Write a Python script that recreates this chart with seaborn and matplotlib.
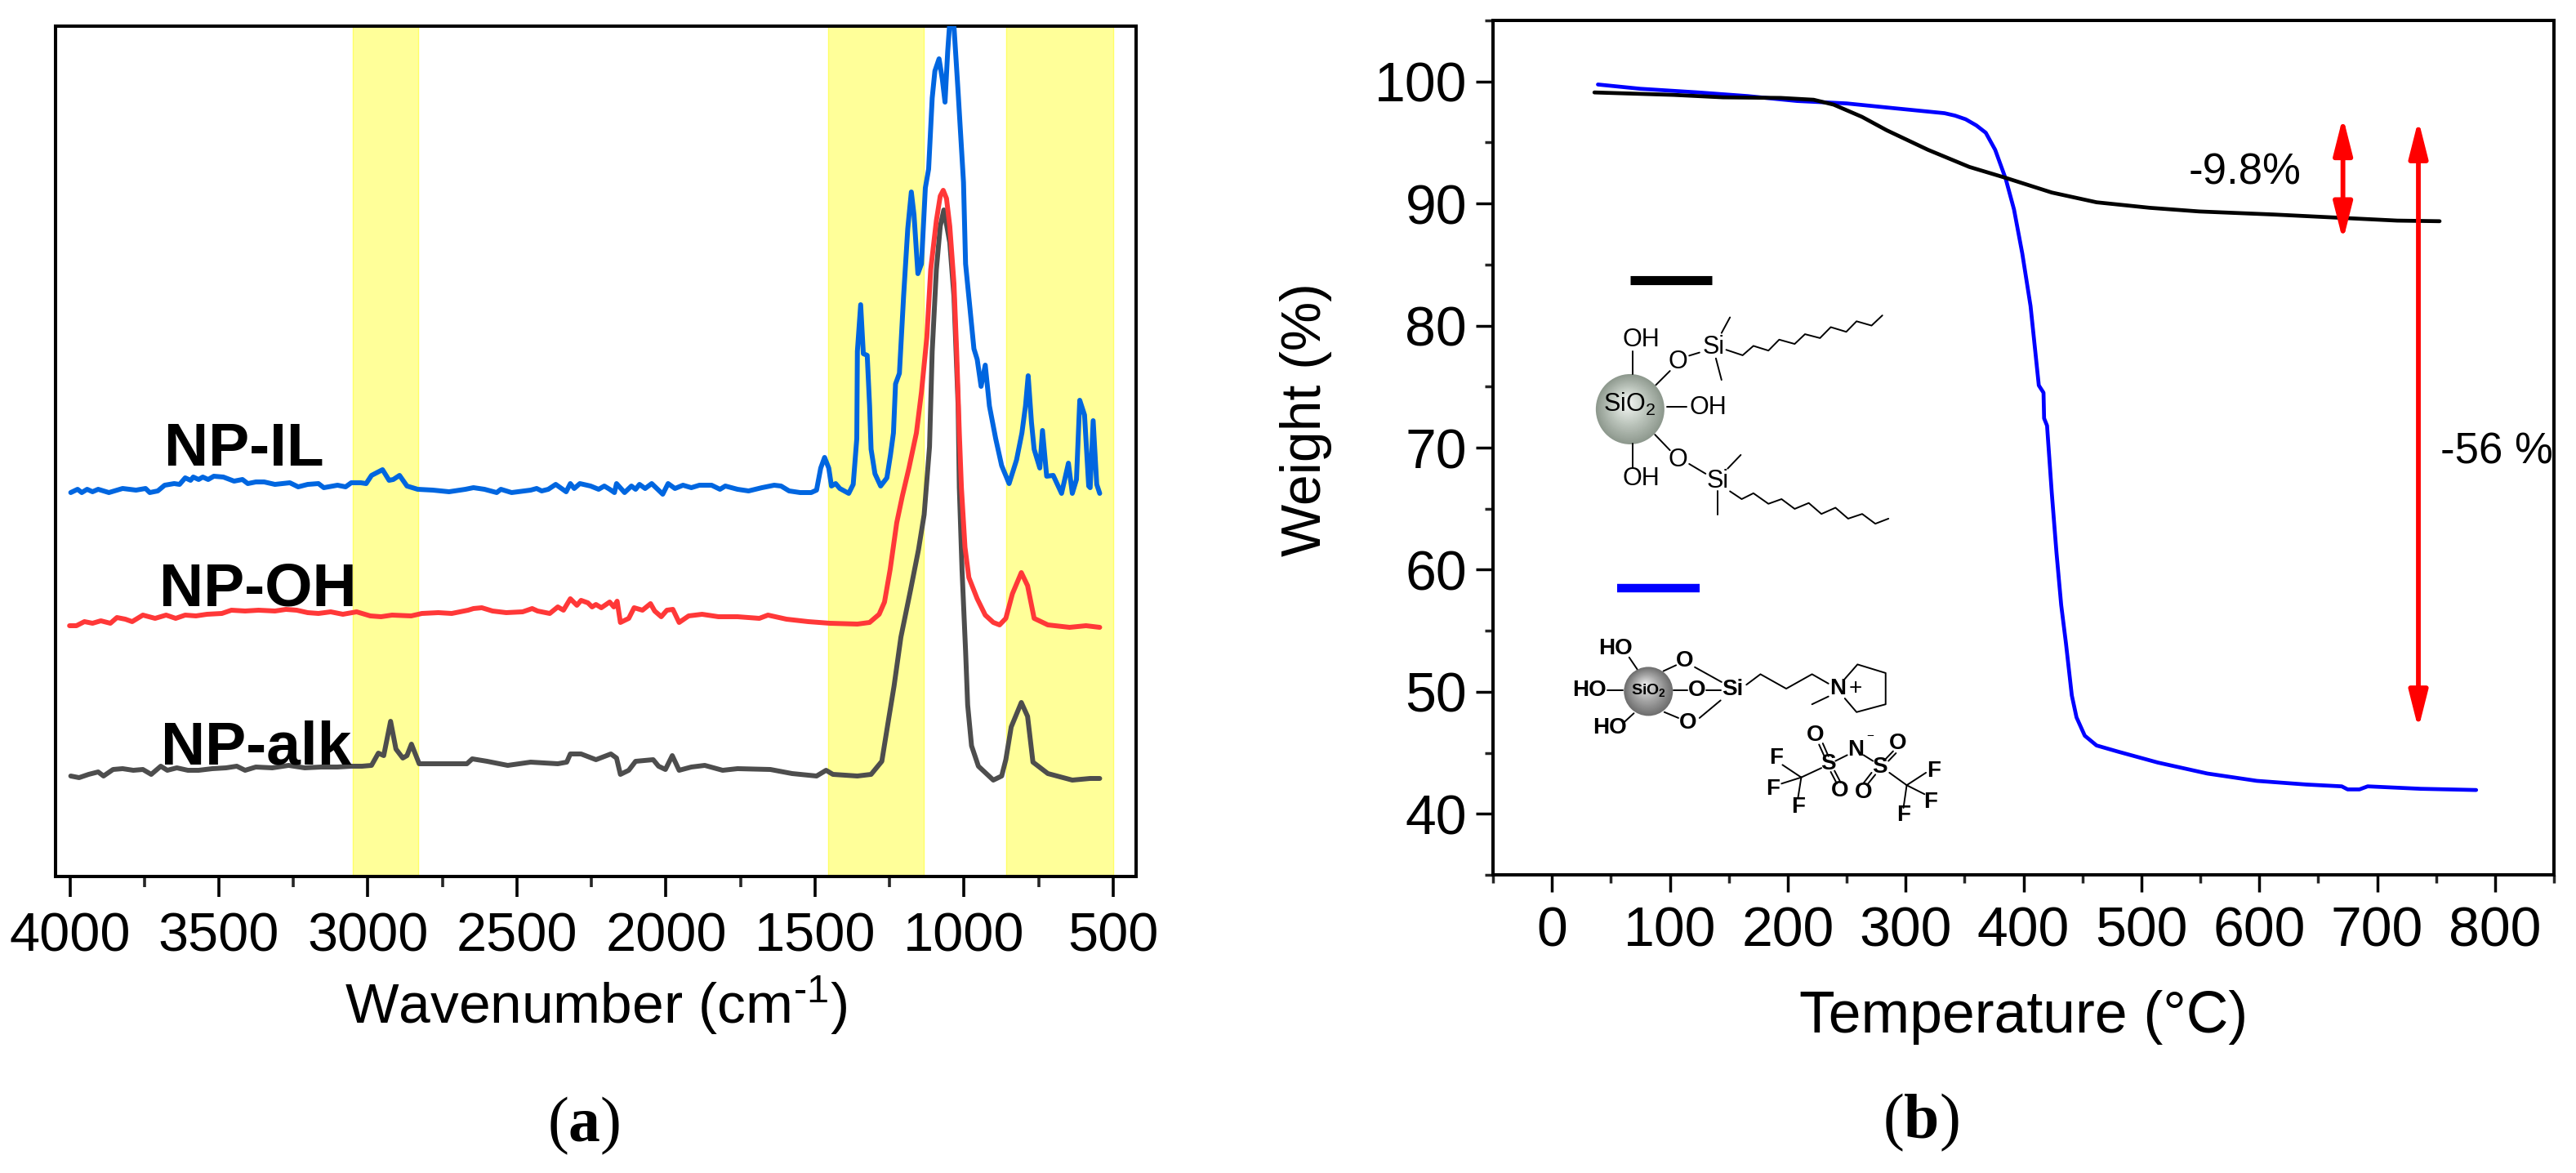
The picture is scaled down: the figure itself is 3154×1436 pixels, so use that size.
import matplotlib
matplotlib.use("Agg")
import matplotlib.pyplot as plt
from matplotlib.patches import Ellipse
from matplotlib.ticker import MultipleLocator
import seaborn as sns

# FTIR spectra, wavenumber (cm-1) and offset intensity (a.u.)
ir_wn_oh = [4001, 3978, 3951, 3924, 3896, 3864, 3842, 3814, 3791, 3755, 3714, 3677, 3645, 3613, 3577, 3540, 3490, 3458,
            3412, 3367, 3312, 3275, 3239, 3202, 3166, 3125, 3084, 3038, 2992, 2956, 2919, 2855, 2819, 2764, 2719, 2664,
            2646, 2618, 2582, 2536, 2481, 2449, 2431, 2390, 2363, 2344, 2321, 2299, 2285, 2262, 2248, 2235, 2217, 2189,
            2175, 2164, 2153, 2125, 2107, 2079, 2052, 2038, 2016, 1997, 1977, 1956, 1924, 1879, 1824, 1760, 1687, 1658,
            1596, 1523, 1450, 1358, 1317, 1285, 1267, 1248, 1226, 1207, 1185, 1160, 1143, 1125, 1112, 1093, 1080, 1070,
            1059, 1048, 1034, 1025, 1016, 1009, 997, 984, 956, 929, 902, 881, 860, 838, 808, 787, 765, 719, 646, 591, 545]
ir_int_oh = [307, 307, 312, 310, 313, 310, 317, 315, 312, 320, 316, 320, 316, 320, 319, 321, 322, 326,
             325, 326, 325, 327, 326, 323, 322, 324, 321, 324, 319, 318, 320, 319, 322, 323, 322, 326,
             328, 329, 325, 323, 324, 328, 325, 322, 330, 326, 340, 332, 338, 335, 330, 333, 329, 336,
             330, 337, 311, 316, 329, 326, 334, 325, 318, 326, 327, 311, 319, 321, 318, 318, 316, 320,
             315, 312, 310, 309, 311, 321, 336, 376, 433, 466, 500, 543, 593, 660, 743, 803, 833, 840,
             830, 796, 726, 643, 543, 476, 403, 366, 340, 320, 311, 308, 316, 346, 372, 356, 316, 308, 305, 307, 305]

ir_wn_alk = [3997, 3969, 3937, 3905, 3887, 3855, 3823, 3787, 3755, 3727, 3695, 3673, 3641, 3604, 3568, 3522, 3476, 3440,
             3412, 3376, 3321, 3266, 3212, 3157, 3102, 3056, 3020, 2988, 2965, 2947, 2924, 2906, 2883, 2869, 2854, 2828,
             2737, 2668, 2650, 2600, 2531, 2454, 2363, 2333, 2321, 2285, 2235, 2185, 2166, 2153, 2125, 2102, 2043, 2025,
             2002, 1979, 1956, 1915, 1870, 1810, 1760, 1650, 1577, 1495, 1463, 1440, 1358, 1312, 1276, 1253, 1235, 1212,
             1180, 1153, 1134, 1116, 1107, 1093, 1080, 1068, 1048, 1034, 1020, 1016, 1007, 995, 988, 975, 952, 902, 874,
             860, 842, 808, 787, 769, 719, 637, 577, 545]
ir_int_alk = [123, 121, 125, 128, 123, 131, 132, 130, 131, 125, 135, 130, 133, 130, 130, 132, 133, 135,
              130, 134, 133, 136, 133, 134, 134, 135, 135, 136, 151, 148, 190, 156, 145, 148, 162, 138,
              138, 138, 144, 141, 136, 140, 138, 140, 150, 150, 143, 150, 145, 125, 130, 141, 143, 135,
              131, 148, 130, 134, 136, 130, 132, 131, 126, 123, 130, 125, 123, 125, 141, 193, 233, 293,
              350, 400, 443, 526, 643, 743, 796, 816, 776, 710, 576, 476, 376, 276, 210, 160, 135, 118, 123,
              143, 183, 213, 196, 140, 126, 118, 120, 120]

ir_wn_il = [3997, 3974, 3960, 3942, 3924, 3905, 3869, 3823, 3778, 3746, 3732, 3705, 3682, 3650, 3632, 3613, 3595, 3586,
            3568, 3554, 3536, 3517, 3485, 3449, 3421, 3403, 3376, 3348, 3312, 3262, 3234, 3202, 3166, 3148, 3102, 3075,
            3056, 3024, 3006, 2988, 2951, 2929, 2915, 2894, 2869, 2833, 2782, 2728, 2673, 2646, 2609, 2568, 2554, 2518,
            2454, 2434, 2417, 2395, 2370, 2335, 2321, 2308, 2289, 2253, 2226, 2207, 2189, 2173, 2166, 2139, 2116, 2102,
            2089, 2070, 2048, 2011, 1993, 1970, 1943, 1915, 1888, 1847, 1819, 1801, 1760, 1723, 1678, 1637, 1614, 1587,
            1550, 1513, 1495, 1481, 1468, 1454, 1445, 1431, 1417, 1387, 1372, 1360, 1358, 1347, 1338, 1325, 1317, 1312,
            1299, 1280, 1259, 1247, 1237, 1230, 1217, 1203, 1189, 1177, 1168, 1155, 1143, 1130, 1119, 1107, 1098, 1084,
            1073, 1064, 1055, 1049, 1034, 1020, 1002, 995, 975, 967, 956, 943, 929, 915, 894, 874, 849, 824, 806, 794,
            785, 774, 765, 746, 737, 723, 701, 673, 650, 637, 623, 612, 596, 582, 577, 567, 555, 545]
ir_int_il = [470, 474, 470, 474, 471, 474, 470, 475, 473, 475, 470, 472, 479, 481, 480, 488, 485, 489,
             486, 489, 486, 490, 489, 484, 486, 481, 483, 483, 480, 482, 477, 480, 481, 476, 479, 477,
             482, 482, 481, 491, 498, 485, 486, 491, 478, 474, 473, 471, 474, 476, 474, 470, 474, 470,
             473, 475, 472, 474, 480, 471, 481, 475, 481, 478, 474, 478, 474, 470, 481, 470, 478, 474,
             480, 475, 481, 468, 481, 475, 479, 476, 479, 479, 474, 478, 474, 472, 476, 479, 478, 472,
             470, 470, 473, 500, 513, 500, 478, 481, 475, 469, 480, 536, 643, 700, 640, 638, 576, 523,
             493, 478, 488, 516, 543, 603, 616, 710, 793, 838, 810, 738, 750, 843, 866, 953, 986, 1001,
             976, 948, 1010, 1041, 1041, 960, 850, 750, 676, 646, 633, 600, 626, 576, 536, 503, 481, 510, 543, 576,
             613, 556, 523, 500, 546, 490, 491, 469, 506, 469, 486, 583, 565, 478, 476, 558, 480, 469]

ir_series = [("NP-IL", ir_wn_il, ir_int_il, "#0066E0", 201, 570),
             ("NP-OH", ir_wn_oh, ir_int_oh, "#FF3838", 195, 742),
             ("NP-alk", ir_wn_alk, ir_int_alk, "#4D4D4D", 197, 936)]
ir_bands = [(3051, 2832), (1456, 1135), (860, 500)]
ir_ticks = [4000, 3500, 3000, 2500, 2000, 1500, 1000, 500]

# TGA curves, temperature (C) and weight (%)
tga_t_alk = [36, 103, 145, 194, 222, 239, 263, 284, 319, 354, 385, 424, 462, 507, 549, 612, 675, 717, 753]
tga_w_alk = [99.1, 98.9, 98.7, 98.65, 98.5, 98.1, 97.1, 96, 94.4, 93, 92.1, 90.9, 90.1, 89.65, 89.35, 89.1, 88.8, 88.6, 88.55]
tga_t_il = [39, 75, 124, 166, 208, 250, 291, 333, 342, 351, 360, 368, 376, 385, 392, 399, 406, 410, 413, 417, 417.5, 420,
            424, 428, 432, 436, 441, 445, 452, 462, 480, 514, 556, 598, 640, 670, 675, 685, 692, 737, 784]
tga_w_il = [99.75, 99.4, 99.1, 98.8, 98.4, 98.2, 97.8, 97.4, 97.2, 96.9, 96.4, 95.8, 94.4, 92, 89.5, 85.9, 81.6, 77.9, 75.1, 74.5, 72.4, 71.8,
            66.3, 61.4, 57.1, 54, 49.7, 47.9, 46.4, 45.6, 45.1, 44.2, 43.3, 42.7, 42.4, 42.25, 42, 42, 42.25, 42.05, 41.95]
tga_t_ticks = [0, 100, 200, 300, 400, 500, 600, 700, 800]
tga_w_ticks = [40, 50, 60, 70, 80, 90, 100]
loss_arrows = [(671, 97.1, 86.96), (735, 96.85, 46.96)]

sns.set_theme(style="ticks")
plt.rcParams["font.family"] = ["Liberation Sans", "DejaVu Sans"]
plt.rcParams["mathtext.fontset"] = "custom"
plt.rcParams["mathtext.rm"] = "Liberation Sans"
plt.rcParams["mathtext.bf"] = "Liberation Serif:bold"
plt.rcParams["mathtext.default"] = "regular"

W, H = 3154, 1436
fig = plt.figure(figsize=(W / 100, H / 100), dpi=100, facecolor="white")


def box(x0, y0, x1, y1):
    return [x0 / W, 1 - y1 / H, (x1 - x0) / W, (y1 - y0) / H]


def style_axes(ax):
    for s in ax.spines.values():
        s.set_linewidth(2.9)
        s.set_color("black")
        s.set_visible(True)


# panel a
ax1 = fig.add_axes(box(68, 32, 1391, 1073))
for lo, hi in ir_bands:
    ax1.axvspan(lo, hi, facecolor="#FFFF99", edgecolor="#FFFF66", lw=1, zorder=0)
for name, wn, val, col, _, _ in ir_series[::-1]:
    sns.lineplot(x=wn, y=val, color=col, linewidth=4.3, estimator=None, sort=False, ax=ax1, zorder=3)
ax1.set_xlim(4048, 423)
ax1.set_ylim(0, 1041)
ax1.set_yticks([])
ax1.set_xticks(ir_ticks)
ax1.set_xticklabels([str(t) for t in ir_ticks])
ax1.xaxis.set_minor_locator(MultipleLocator(250))
ax1.tick_params(axis="x", which="major", length=18, width=2.6, labelsize=48, pad=13, colors="black")
ax1.tick_params(axis="x", which="minor", length=9, width=2.6)
ax1.set_xlabel("Wavenumber (cm$^{\u20101}$)", fontsize=50, color="black")
ax1.xaxis.set_label_coords(0.5, -0.115)
style_axes(ax1)

# panel b
ax2 = fig.add_axes(box(1828, 25, 3127, 1071))
sns.lineplot(x=tga_t_il, y=tga_w_il, color="#0000FF", linewidth=3.4, estimator=None, sort=False, ax=ax2)
sns.lineplot(x=tga_t_alk, y=tga_w_alk, color="black", linewidth=3.4, estimator=None, sort=False, ax=ax2)
for t, top, bottom in loss_arrows:
    ax2.annotate("", xy=(t, top), xytext=(t, bottom),
                 arrowprops=dict(arrowstyle="<|-|>,head_length=1.9,head_width=0.48", mutation_scale=14.5,
                                 color="#FF0000", lw=4.2, shrinkA=0, shrinkB=0), zorder=5)
ax2.set_xlim(-50, 850)
ax2.set_ylim(35, 105)
ax2.set_xticks(tga_t_ticks)
ax2.set_yticks(tga_w_ticks)
ax2.xaxis.set_minor_locator(MultipleLocator(50))
ax2.yaxis.set_minor_locator(MultipleLocator(5))
ax2.tick_params(axis="both", which="major", length=15, width=2.5, labelsize=49, colors="black")
ax2.tick_params(axis="x", which="major", pad=12)
ax2.tick_params(axis="y", which="major", pad=8)
ax2.tick_params(axis="both", which="minor", length=7.5, width=2.5)
ax2.set_xlabel("Temperature (°C)", fontsize=51.5, color="black")
ax2.set_ylabel("Weight (%)", fontsize=49, color="black")
ax2.xaxis.set_label_coords(0.5, -0.135)
ax2.yaxis.set_label_coords(-0.152, 0.533)
style_axes(ax2)

# overlay in picture pixels for panel letters and the drawn molecules
ov = fig.add_axes([0, 0, 1, 1], zorder=10)
ov.set_xlim(0, W)
ov.set_ylim(H, 0)
ov.axis("off")
ov.patch.set_alpha(0)

for name, _, _, _, lx, ly in ir_series:
    ov.text(lx, ly, name, fontsize=54, fontweight="bold", color="black", va="baseline", ha="left")
ov.text(2680, 225, "-9.8%", fontsize=38, color="black", va="baseline")
ov.text(2988, 567, "-56 %", fontsize=38, color="black", va="baseline")
ov.text(715, 1378, r"($\mathbf{a}$)", fontsize=56, family="Liberation Serif", color="black", ha="center", va="center")
ov.text(2352, 1374, r"($\mathbf{b}$)", fontsize=56, family="Liberation Serif", color="black", ha="center", va="center")

ov.plot([1996, 2096], [342.5, 342.5], color="black", lw=8, solid_capstyle="butt")
ov.plot([1980, 2081], [720, 720], color="#0000FF", lw=7.5, solid_capstyle="butt")


def mol(a, b):
    return 1900 + a / 1.742, 300 + b / 2.09


def path(points, lw=1.4):
    xy = [mol(a, b) for a, b in points]
    ov.plot([p[0] for p in xy], [p[1] for p in xy], color="black", lw=lw, solid_capstyle="round")


def label(a, b, s, size=22, weight="normal"):
    x, y = mol(a, b)
    ov.text(x, y, s, fontsize=size, fontweight=weight, ha="center", va="center", color="black")


def sphere(a, b, rx, ry, edge, mid, light):
    x, y = mol(a, b)
    c0, c1, c2 = [matplotlib.colors.to_rgb(c) for c in (edge, mid, light)]
    n = 30
    for i in range(n):
        f = i / (n - 1)
        if f < 0.5:
            col = [c0[k] + (c1[k] - c0[k]) * f * 2 for k in range(3)]
        else:
            col = [c1[k] + (c2[k] - c1[k]) * (f - 0.5) * 2 for k in range(3)]
        ov.add_patch(Ellipse((x - 4 * f, y - 8 * f), 2 * rx * (1 - f * 0.9), 2 * ry * (1 - f * 0.9), color=col, lw=0))


# silane-capped particle
sphere(167, 420, 42, 43, "#8E998E", "#BCC5BC", "#EEF1EE")
path([(372, 268), (407, 282), (430, 258), (462, 270), (485, 242), (518, 253), (540, 228), (572, 238), (595, 210),
      (628, 222), (650, 195), (682, 206), (705, 180)])
path([(380, 630), (405, 650), (430, 635), (462, 662), (490, 650), (518, 675), (548, 660), (575, 688), (605, 672),
      (632, 700), (662, 688), (690, 713), (718, 700)])
for seg in [[(172, 272), (172, 330)], [(222, 358), (252, 322)], [(293, 283), (315, 275)], [(362, 225), (380, 185)],
            [(350, 290), (362, 345)], [(245, 413), (288, 413)], [(220, 485), (252, 525)], [(173, 508), (173, 568)],
            [(293, 560), (328, 585)], [(375, 572), (403, 537)], [(353, 630), (353, 690)]]:
    path(seg)
for a, b, s in [(190, 243, "OH"), (269, 298, "O"), (345, 262, "Si"), (333, 415, "OH"), (269, 550, "O"),
                (353, 603, "Si"), (190, 597, "OH"), (165, 408, "SiO$_2$")]:
    label(a, b, s)

# ionic liquid particle
sphere(206, 1142, 30, 30, "#6E6E6E", "#A5A5A5", "#E2E2E2")
for seg in [[(165, 1055), (182, 1085)], [(118, 1140), (152, 1140)], [(175, 1198), (155, 1220)], [(238, 1090), (265, 1075)],
            [(260, 1140), (290, 1140)], [(240, 1195), (270, 1210)], [(305, 1080), (362, 1118)], [(330, 1140), (360, 1140)],
            [(315, 1210), (360, 1165)], [(555, 1175), (590, 1155)], [(605, 1320), (630, 1305)], [(665, 1305), (685, 1320)],
            [(532, 1362), (492, 1330)], [(532, 1362), (490, 1378)], [(532, 1362), (525, 1415)], [(532, 1362), (575, 1338)],
            [(757, 1382), (720, 1350)], [(757, 1382), (798, 1350)], [(757, 1382), (795, 1405)], [(757, 1382), (750, 1440)],
            [(570, 1278), (582, 1310)], [(578, 1275), (590, 1308)], [(595, 1348), (608, 1378)], [(603, 1345), (616, 1375)],
            [(712, 1315), (728, 1295)], [(718, 1320), (734, 1300)], [(690, 1355), (672, 1382)], [(682, 1350), (664, 1378)]]:
    path(seg)
path([(415, 1125), (445, 1098), (500, 1135), (555, 1098), (590, 1122)])
path([(625, 1110), (652, 1073), (712, 1095), (712, 1175), (650, 1195), (625, 1160)])
for a, b, s in [(135, 1032, "HO"), (80, 1140, "HO"), (124, 1235, "HO"), (283, 1063, "O"), (310, 1140, "O"), (290, 1222, "O"),
                (385, 1137, "Si"), (610, 1135, "N"), (562, 1255, "O"), (590, 1328, "S"), (648, 1292, "N"), (700, 1335, "S"),
                (738, 1275, "O"), (615, 1397, "O"), (665, 1400, "O"), (478, 1313, "F"), (472, 1392, "F"), (525, 1437, "F"),
                (814, 1347, "F"), (808, 1425, "F"), (750, 1458, "F")]:
    label(a, b, s, size=20, weight="bold")
label(206, 1140, "SiO$_2$", size=14, weight="bold")
label(647, 1135, "+", size=20)
label(678, 1256, "−", size=11)

fig.savefig("out.png", dpi=100)
